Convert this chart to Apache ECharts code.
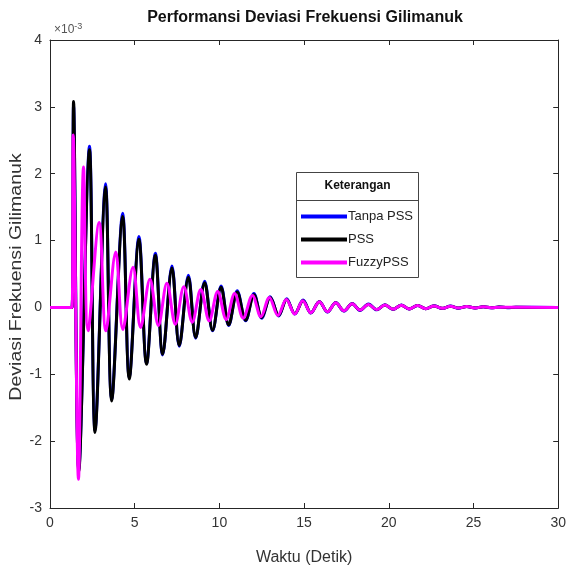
<!DOCTYPE html>
<html>
<head>
<meta charset="utf-8">
<script src="https://cdn.jsdelivr.net/npm/echarts@6/dist/echarts.min.js"></script>
<style>html,body{margin:0;padding:0;background:#fff;}#c{width:569px;height:571px;}</style>
</head>
<body>
<div id="c"></div>
<script>
// Values in units of 1e-3
const tStd = [0, 1.3, 1.39, 1.7, 2.33, 2.66, 3.28, 3.64, 4.29, 4.68, 5.25, 5.7, 6.22, 6.65, 7.2, 7.63, 8.17, 8.6, 9.13, 9.6, 10.1, 10.55, 11.05, 11.55, 12.04, 12.5, 13.0, 13.5, 13.97, 14.45, 14.94, 15.4, 15.9, 16.38, 16.87, 17.35, 17.84, 18.3, 18.8, 19.28, 19.77, 20.25, 20.74, 21.2, 21.7, 22.18, 22.67, 23.15, 23.64, 24.1, 24.6, 25.1, 25.57, 26.05, 26.5, 27.0, 27.5, 30];
const tanpaPSS = [0, 0, 3.02, -2.42, 2.41, -1.84, 1.85, -1.38, 1.41, -1.05, 1.06, -0.84, 0.81, -0.71, 0.62, -0.58, 0.48, -0.46, 0.39, -0.35, 0.32, -0.27, 0.25, -0.2, 0.21, -0.16, 0.16, -0.13, 0.13, -0.1, 0.11, -0.085, 0.09, -0.07, 0.075, -0.055, 0.06, -0.045, 0.05, -0.035, 0.04, -0.03, 0.035, -0.025, 0.03, -0.02, 0.025, -0.015, 0.02, -0.012, 0.015, -0.008, 0.01, -0.005, 0.006, -0.003, 0.002, 0];
const pss = [0, 0, 3.08, -2.45, 2.36, -1.87, 1.8, -1.4, 1.36, -1.07, 1.02, -0.85, 0.78, -0.7, 0.59, -0.57, 0.45, -0.45, 0.37, -0.34, 0.3, -0.26, 0.23, -0.19, 0.19, -0.15, 0.15, -0.12, 0.12, -0.095, 0.1, -0.08, 0.085, -0.065, 0.07, -0.05, 0.055, -0.04, 0.045, -0.032, 0.037, -0.027, 0.032, -0.022, 0.027, -0.018, 0.022, -0.014, 0.018, -0.01, 0.013, -0.007, 0.009, -0.004, 0.005, -0.002, 0.001, 0];
const tFuzzy = [0, 1.3, 1.37, 1.68, 1.98, 2.25, 2.9, 3.3, 3.88, 4.3, 4.9, 5.35, 5.9, 6.4, 6.9, 7.4, 7.9, 8.4, 8.9, 9.4, 9.9, 10.4, 10.9, 11.4, 11.95, 12.45, 12.95, 13.45, 13.95, 14.45, 14.92, 15.4, 15.9, 16.38, 16.87, 17.35, 17.84, 18.3, 18.8, 19.28, 19.77, 20.25, 20.74, 21.2, 21.7, 22.18, 22.67, 23.15, 23.64, 24.1, 24.6, 25.1, 25.57, 26.05, 26.5, 30];
const fuzzyPSS = [0, 0, 2.58, -2.57, 2.1, -0.35, 1.27, -0.35, 0.83, -0.33, 0.6, -0.3, 0.42, -0.27, 0.36, -0.25, 0.31, -0.22, 0.27, -0.2, 0.24, -0.18, 0.21, -0.16, 0.18, -0.14, 0.15, -0.12, 0.12, -0.1, 0.1, -0.08, 0.085, -0.065, 0.07, -0.05, 0.055, -0.04, 0.045, -0.032, 0.037, -0.027, 0.032, -0.022, 0.027, -0.018, 0.022, -0.014, 0.018, -0.01, 0.013, -0.007, 0.009, -0.004, 0.003, 0];
const seriesNames = ['Tanpa PSS', 'PSS', 'FuzzyPSS'];
const xTicks = [0, 5, 10, 15, 20, 25, 30];
const yTicks = [-3, -2, -1, 0, 1, 2, 3, 4];

const FONT = 'Liberation Sans, Arial, sans-serif';
const AX = '#262626';
const zip = (t, v) => t.map((x, i) => [x, v[i]]);

const chart = echarts.init(document.getElementById('c'), null, {renderer: 'canvas'});
const axisCommon = {
  axisLine: {show: true, onZero: false, lineStyle: {color: AX, width: 1}},
  axisTick: {show: true, inside: true, length: 5, lineStyle: {color: AX}},
  splitLine: {show: false}
};
const option = {
  animation: false,
  backgroundColor: '#fff',
  grid: {left: 50, right: 7, top: 40, bottom: 63, show: false},
  xAxis: [
    Object.assign({type: 'value', min: xTicks[0], max: xTicks[xTicks.length - 1], interval: 5, position: 'bottom',
      axisLabel: {color: '#333', fontFamily: FONT, fontSize: 14, margin: 8},
      name: 'Waktu (Detik)', nameLocation: 'middle', nameGap: 42,
      nameTextStyle: {color: '#333', fontFamily: FONT, fontSize: 16}}, axisCommon),
    Object.assign({type: 'value', min: 0, max: 30, interval: 5, position: 'top', axisLabel: {show: false}}, axisCommon)
  ],
  yAxis: [
    Object.assign({type: 'value', min: yTicks[0], max: yTicks[yTicks.length - 1], interval: 1, position: 'left',
      axisLabel: {color: '#333', fontFamily: FONT, fontSize: 14, margin: 8}}, axisCommon),
    Object.assign({type: 'value', min: -3, max: 4, interval: 1, position: 'right', axisLabel: {show: false}}, axisCommon)
  ],
  legend: {
    show: true, orient: 'vertical', left: 296, top: 205, itemWidth: 46, itemHeight: 4, itemGap: 10,
    icon: 'rect', z: 20,
    textStyle: {color: '#222', fontFamily: FONT, fontSize: 13, padding: [0, 0, 0, -4]},
    data: seriesNames
  },
  series: [
    {name: seriesNames[0], type: 'line', data: zip(tStd, tanpaPSS), showSymbol: false, smooth: 0.35,
      lineStyle: {color: '#0000ff', width: 3}, itemStyle: {color: '#0000ff'}, z: 2},
    {name: seriesNames[1], type: 'line', data: zip(tStd, pss), showSymbol: false, smooth: 0.35,
      lineStyle: {color: '#000000', width: 3}, itemStyle: {color: '#000000'}, z: 3},
    {name: seriesNames[2], type: 'line', data: zip(tFuzzy, fuzzyPSS), showSymbol: false, smooth: 0.35,
      lineStyle: {color: '#ff00ff', width: 3}, itemStyle: {color: '#ff00ff'}, z: 4}
  ],
  graphic: [
    {type: 'text', x: 305, y: 10, style: {text: 'Performansi Deviasi Frekuensi Gilimanuk', font: 'bold 16px ' + FONT, fill: '#111', textAlign: 'center'}, z: 10},
    {type: 'text', x: 54, y: 22, style: {rich: {a: {font: '12px ' + FONT, fill: '#555'}, b: {font: '9px ' + FONT, fill: '#555', verticalAlign: 'top', padding: [0, 0, 6, 0]}}, text: '{a|×10}{b|-3}'}, z: 10},
    {type: 'text', x: 17, y: 277, rotation: Math.PI / 2, scaleX: 1.22, style: {text: 'Deviasi Frekuensi Gilimanuk', font: '16px ' + FONT, fill: '#333', textAlign: 'center', textVerticalAlign: 'middle'}, z: 10},
    {type: 'rect', shape: {x: 296.5, y: 172.5, width: 122, height: 105}, style: {fill: '#fff', stroke: '#444', lineWidth: 1}, z: 5},
    {type: 'line', shape: {x1: 296.5, y1: 200.5, x2: 418.5, y2: 200.5}, style: {stroke: '#444', lineWidth: 1}, z: 6},
    {type: 'text', x: 357.5, y: 186, style: {text: 'Keterangan', font: 'bold 12px ' + FONT, fill: '#111', textAlign: 'center', textVerticalAlign: 'middle'}, z: 6}
  ]
};
chart.setOption(option);
</script>
</body>
</html>
